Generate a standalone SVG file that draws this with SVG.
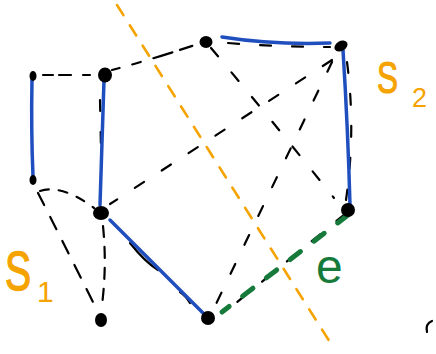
<svg xmlns="http://www.w3.org/2000/svg" width="436" height="354" viewBox="0 0 436 354">
<style>
.blue{fill:none;stroke:#1f4fbf;stroke-width:3.5;stroke-linecap:round}
.dash{fill:none;stroke:#000;stroke-width:2.2;stroke-linecap:round;stroke-dasharray:11 21}
.orange{fill:none;stroke:#f5a300;stroke-width:2.6;stroke-linecap:round;stroke-dasharray:12 12}
.green{fill:none;stroke:#157a3a;stroke-width:5;stroke-linecap:round;stroke-dasharray:13 17}
.node{fill:#000}
.lbl{font-family:"Liberation Sans",Arial,sans-serif}
</style>
<rect width="436" height="354" fill="#fff"/>
<g id="connectors">
<path class="dash" d="M43,75 L90,75" style="stroke-dasharray:10 6 12 12"/>
<path class="dash" d="M112,70 Q150,60 198,44" style="stroke-dasharray:8 13 9 13 20"/>
<path class="dash" d="M228,43 Q280,47 330,47"/>
<path class="dash" d="M347,62 Q356,130 346,200"/>
<path class="dash" d="M211,48 Q270,118 334,198"/>
<path class="dash" d="M332,60 L110,204"/>
<path class="dash" d="M332,62 Q290,150 216,304"/>
<path class="dash" d="M40,191 Q62,184 94,208" style="stroke-dasharray:9 10"/>
<path class="dash" d="M38,193 Q62,240 97,310" style="stroke-dasharray:14 13"/>
<path class="dash" d="M103,226 Q107,265 102,305" style="stroke-dasharray:11 10"/>
<path class="dash" d="M100,100 L101,150"/>
<path class="dash" d="M130,243 Q145,262 158,270 M180,292 Q186,296 190,303" style="stroke-dasharray:none"/>
<path class="dash" d="M345,214 L225,312"/>
<path class="blue" d="M32,80 Q31,130 33,176"/>
<path class="blue" d="M104,80 Q102,140 100,205"/>
<path class="blue" d="M222,37 C260,43 300,44 330,43"/>
<path class="blue" d="M343,50 Q348,130 350,205"/>
<path class="blue" d="M110,220 L205,315"/>
<path class="green" d="M348,215 L222,312"/>
<path class="orange" d="M117,5 L333,347"/>
<path d="M432,321 Q425,324 427,332" fill="none" stroke="#000" stroke-width="2.2" stroke-linecap="round"/>
</g>
<g id="nA"><ellipse class="node" cx="33" cy="76" rx="3.5" ry="5"/></g>
<g id="nB"><ellipse class="node" cx="105" cy="75" rx="7" ry="7.5"/></g>
<g id="nC"><ellipse class="node" cx="206" cy="42" rx="6.5" ry="6"/></g>
<g id="nD"><ellipse class="node" cx="341" cy="46" rx="7" ry="5" transform="rotate(-30 341 46)"/></g>
<g id="nE"><ellipse class="node" cx="33" cy="180" rx="3.5" ry="5"/></g>
<g id="nF"><ellipse class="node" cx="101" cy="213" rx="8" ry="7"/></g>
<g id="nG"><ellipse class="node" cx="348" cy="210" rx="7" ry="7"/></g>
<g id="nH"><ellipse class="node" cx="101" cy="320" rx="6" ry="7"/></g>
<g id="nI"><ellipse class="node" cx="208" cy="318" rx="7" ry="7"/></g>
<g id="labels">
<text class="lbl" transform="translate(5,290) scale(0.7,1)" font-size="56" fill="#f5a300" stroke="#f5a300" stroke-width="1.4">S</text>
<text class="lbl" x="37" y="302" font-size="30" fill="#f5a300">1</text>
<text class="lbl" transform="translate(377,93) scale(0.7,1)" font-size="45" fill="#f5a300" stroke="#f5a300" stroke-width="1.2">S</text>
<text class="lbl" x="412" y="107" font-size="27" fill="#f5a300">2</text>
<text class="lbl" x="316" y="283" font-size="48" fill="#157a3a">e</text>
</g>
</svg>
